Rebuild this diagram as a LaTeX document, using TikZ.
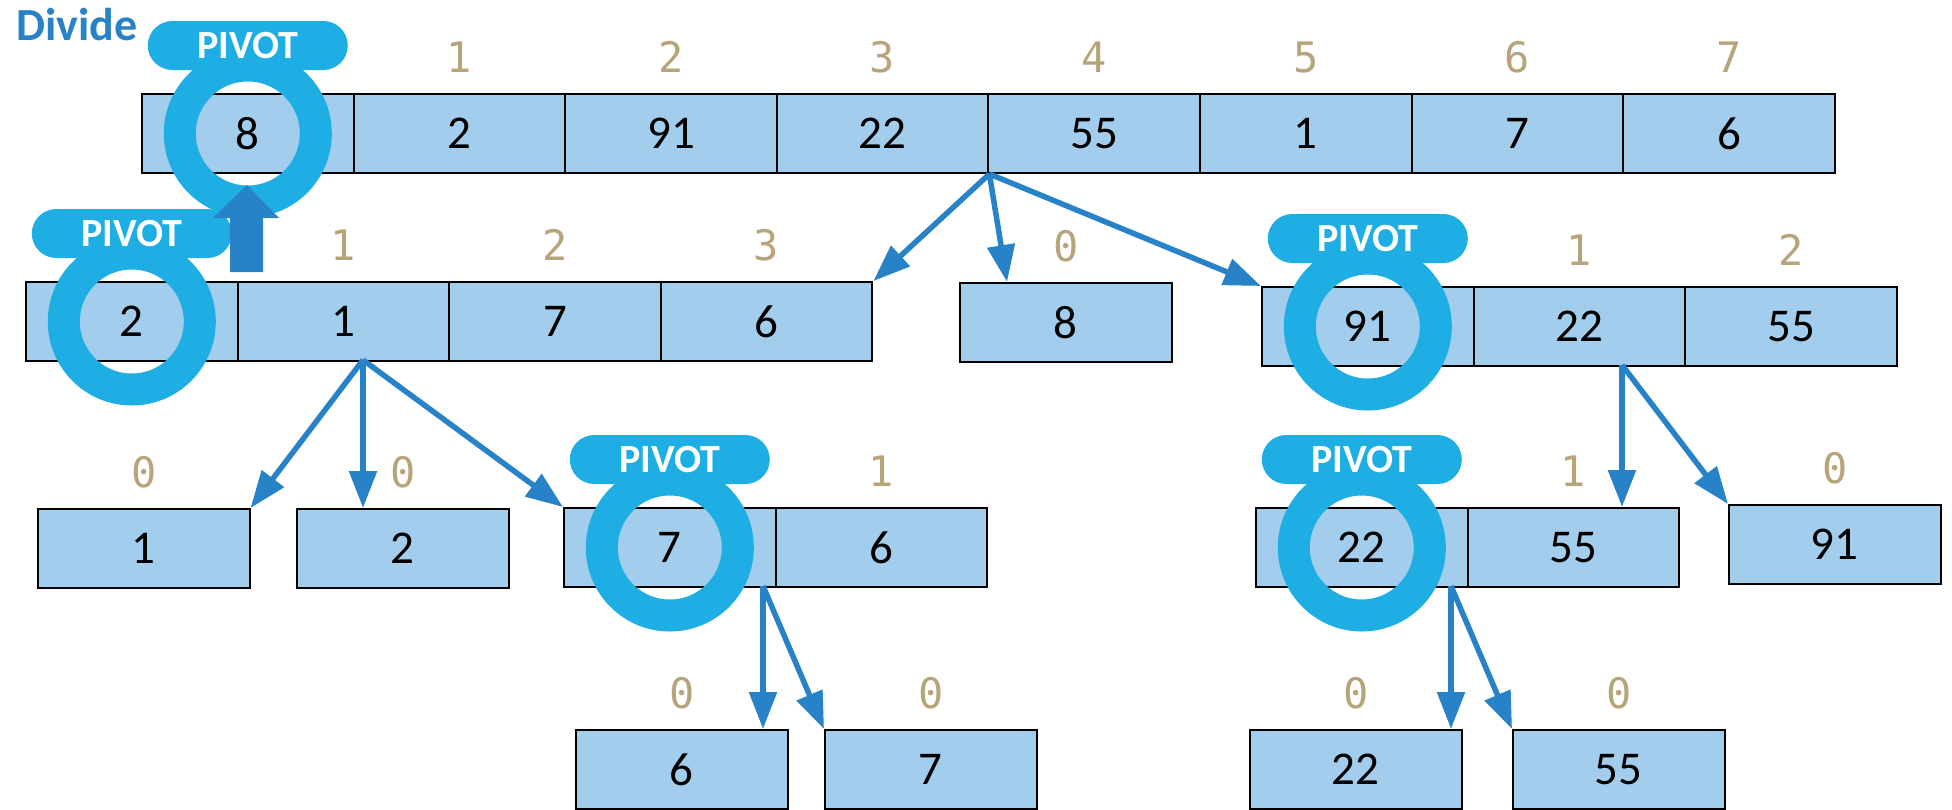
\documentclass[tikz,border=0pt]{standalone}
\usepackage{fontspec}
\setmainfont{Carlito}
\newfontfamily\idxfont{DejaVu Sans Mono}
\usetikzlibrary{arrows.meta}
\definecolor{cellblue}{RGB}{163,205,237}
\definecolor{ringblue}{RGB}{30,174,227}
\definecolor{linkblue}{RGB}{40,130,200}
\definecolor{idxtan}{RGB}{184,164,122}

\tikzset{
  cell/.style={draw=black, line width=2pt, fill=cellblue, minimum width=211.6pt,
    minimum height=79pt, inner sep=0pt, anchor=north west, font=\fontsize{47}{47}\selectfont},
  idx/.style={text=idxtan, inner sep=0pt, yshift=36pt, font=\idxfont\fontsize{42}{42}\selectfont},
  ring/.style={draw=ringblue, line width=32pt},
  pivottag/.style={fill=ringblue, text=white, rounded corners=24.5pt, minimum width=200pt,
    minimum height=49pt, inner sep=0pt, yshift=88pt, font=\bfseries\fontsize{40}{40}\selectfont},
  link/.style={draw=linkblue, line width=5.5pt, -{Triangle[length=37pt,width=27pt]}},
}

\begin{document}
\begin{tikzpicture}[x=1pt,y=-1pt]
\useasboundingbox (0,0) rectangle (1952,809);
\node[anchor=base west, inner sep=0pt, text=linkblue, font=\bfseries\fontsize{46}{46}\selectfont] (title) at (16,40) {Divide};

% first level
\foreach \v [count=\i from 0] in {8,2,91,22,55,1,7,6}
  \node[cell] (t\i) at ({141+211.6*\i},93) {\v};
\foreach \i in {1,...,7}
  \node[idx] at (t\i.north) {\i};

% second level
\foreach \v [count=\i from 0] in {2,1,7,6}
  \node[cell] (L\i) at ({25+211.6*\i},281) {\v};
\foreach \i in {1,2,3}
  \node[idx] at (L\i.north) {\i};
\node[cell] (m) at (959,282) {8};
\node[idx] at (m.north) {0};
\foreach \v [count=\i from 0] in {91,22,55}
  \node[cell] (R\i) at ({1261+211.6*\i},286) {\v};
\foreach \i in {1,2}
  \node[idx] at (R\i.north) {\i};

% third level
\node[cell] (a) at (37,508) {1};
\node[cell] (b) at (296,508) {2};
\node[cell] (c0) at (563,507) {7};
\node[cell] (c1) at (774.6,507) {6};
\node[cell] (d0) at (1255,507) {22};
\node[cell] (d1) at (1466.6,507) {55};
\node[cell] (e) at (1728,504) {91};
\node[idx] at (a.north) {0};
\node[idx] at (b.north) {0};
\node[idx] at (c1.north) {1};
\node[idx] at (d1.north) {1};
\node[idx] at (e.north) {0};

% fourth level
\node[cell] (f) at (575,729) {6};
\node[cell] (g) at (824,729) {7};
\node[cell] (h) at (1249,729) {22};
\node[cell] (k) at (1512,729) {55};
\node[idx] at (f.north) {0};
\node[idx] at (g.north) {0};
\node[idx] at (h.north) {0};
\node[idx] at (k.north) {0};

% splits
\coordinate (m-in) at (1007,282);
\draw[link] (t3.south east) -- (L3.north east);
\draw[link] (t3.south east) -- (m-in);
\draw[link] (t3.south east) -- (R0.north west);
\coordinate (L-out) at (363,360);
\coordinate (b-in) at (363,508);
\draw[link] (L-out) -- (a.north east);
\draw[link] (L-out) -- (b-in);
\draw[link] (L-out) -- (c0.north west);
\coordinate (c-out) at (763,586);
\coordinate (f-in) at (763,729);
\draw[link] (c-out) -- (f-in);
\draw[link] (c-out) -- (g.north west);
\coordinate (R-out) at (1622,365);
\coordinate (d-in) at (1622,507);
\draw[link] (R-out) -- (d-in);
\draw[link] (R-out) -- (e.north west);
\coordinate (d-out) at (1451,586);
\coordinate (h-in) at (1451,729);
\draw[link] (d-out) -- (h-in);
\draw[link] (d-out) -- (k.north west);

% pivots
\foreach \c in {t0,L0,R0,c0,d0} {
  \draw[ring] (\c.center) circle[radius=68pt];
  \node[pivottag] (p-\c) at (\c.center) {PIVOT};
}
\fill[linkblue] (230,272) -- (263,272) -- (263,218) -- (279,218) -- (247,185) -- (213,218) -- (230,218) -- cycle;
\end{tikzpicture}
\end{document}
